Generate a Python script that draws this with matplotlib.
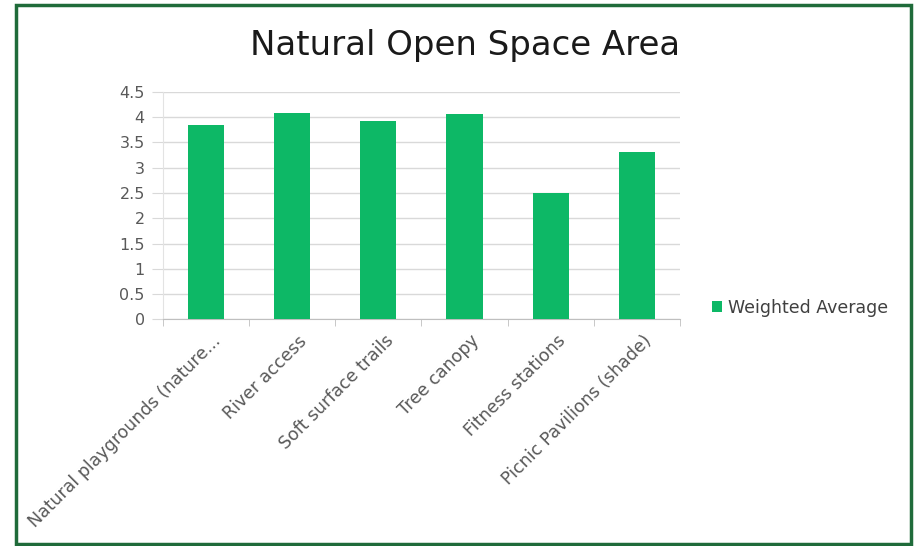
import matplotlib.pyplot as plt
import matplotlib.transforms as mtransforms
from matplotlib.patches import Rectangle

plt.rcParams['font.family'] = ['DejaVu Sans']

categories = ["Natural playgrounds (nature...", "River access", "Soft surface trails",
              "Tree canopy", "Fitness stations", "Picnic Pavilions (shade)"]
weighted_average = [3.85, 4.08, 3.92, 4.05, 2.49, 3.31]
y_ticks = [0, 0.5, 1, 1.5, 2, 2.5, 3, 3.5, 4, 4.5]
y_labels = ["0", "0.5", "1", "1.5", "2", "2.5", "3", "3.5", "4", "4.5"]

fig = plt.figure(figsize=(9.15, 5.46), dpi=100)
ax = fig.add_axes([0.178, 0.415, 0.565, 0.417])

x = list(range(len(categories)))
ax.bar(x, weighted_average, width=0.42, color='#0DB866', label='Weighted Average', zorder=3)

ax.set_xlim(-0.5, len(categories) - 0.5)
ax.set_ylim(0, 4.5)
ax.set_yticks(y_ticks)
ax.set_yticklabels(y_labels)
ax.yaxis.grid(True, color='#d9d9d9', linewidth=1, zorder=0)
ax.tick_params(axis='y', length=8, color='#d9d9d9', labelsize=11.5, labelcolor='#595959', pad=5)

ax.set_xticks(x)
ax.set_xticklabels(categories, rotation=45, ha='right', rotation_mode='anchor',
                   fontsize=12.5, color='#595959')
ax.set_xticks([i - 0.5 for i in range(len(categories) + 1)], minor=True)
ax.tick_params(axis='x', which='major', length=0, pad=9)
ax.tick_params(axis='x', which='minor', length=5, color='#bfbfbf', direction='out')
shift = mtransforms.ScaledTranslation(6 / 100, 0, fig.dpi_scale_trans)
for lab in ax.get_xticklabels():
    lab.set_transform(lab.get_transform() + shift)

for s in ['top', 'right']:
    ax.spines[s].set_visible(False)
ax.spines['bottom'].set_color('#bfbfbf')
ax.spines['left'].set_color('#e3e3e3')

fig.text(0.508, 0.917, "Natural Open Space Area", ha='center', va='center',
         fontsize=24.5, color='#1a1a1a')

fig.legend(*ax.get_legend_handles_labels(), loc='center left',
           bbox_to_anchor=(712 / 915, 1 - 308 / 546), borderaxespad=0, borderpad=0,
           frameon=False, fontsize=12.5, handlelength=0.6, handleheight=0.6,
           handletextpad=0.3, labelcolor='#404040')

fig.patches.append(Rectangle((0.017, 0.004), 0.979, 0.986, transform=fig.transFigure,
                             fill=False, edgecolor='#1f6b3a', linewidth=2.5))

fig.savefig('out.png', dpi=100)
